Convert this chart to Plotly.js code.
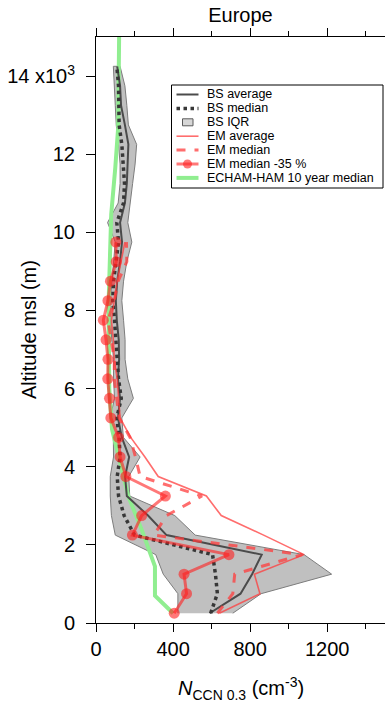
<!DOCTYPE html>
<html>
<head>
<meta charset="utf-8">
<script src="https://cdn.plot.ly/plotly-3.0.1.min.js"></script>
<style>html,body{margin:0;padding:0;background:#fff;}#chart{width:388px;height:706px;}</style>
</head>
<body>
<div id="chart"></div>
<script>
// Altitude bins (m)
var bsAlt = [250,750,1250,1750,2250,2750,3250,3750,4250,4750,5250,5750,6250,6750,7250,7750,8250,8750,9250,9750,10250,10750,11250,11750,12250,12750,13250,13750,14250];
var bsAverage = [590,750,810,860,366,270,160,151,172,134,114,125,114,120,118,108,103,110,125,135,125,150,160,165,168,150,130,125,110];
var bsMedian = [595,630,620,605,200,146,117,110,125,120,108,131,117,108,103,96,87,91,103,117,108,143,148,143,134,120,117,117,108];
var bsP25 = [425,425,349,310,100,80,74,74,91,90,74,96,91,91,82,74,74,82,91,100,60,115,125,125,117,105,100,95,90];
var bsP75 = [710,857,1223,1080,515,409,175,170,229,142,134,194,165,151,151,143,134,143,160,186,165,177,190,203,211,168,160,150,125];

var emAlt = [250,750,1250,1750,2250,2750,3250,3750,4250,4750,5250,5750,6250,6750,7250,7750,8250,8750,9250,9750];
var emAverage = [640,851,822,1080,870,650,573,323,254,180,125,117,110,95,90,80,95,110,130,150];
var emMedian = [630,710,720,1070,300,366,550,229,205,177,120,108,95,95,80,62,95,115,160,158];
var emMedianMinus35 = [406,470,457,690,189,237,360,155,125,117,77,70,61,62,52,38,62,75,105,103];

var echamAlt = [250,700,1450,2390,3240,4100,4960,5250,6000,8130,9770,10460,11650,12680,15000];
var echamMedian = [400,306,306,237,168,125,83,79,69,65,74,79,100,115,120];

var yTickVals = [0,2000,4000,6000,8000,10000,12000,14000];
var yTickText = ["0","2","4","6","8","10","12","14 x10<sup>3</sup>"];
var xTickVals = [0,400,800,1200];
var xTickText = ["0","400","800","1200"];

var legendNames = ["BS average","BS median","BS IQR","EM average","EM median","EM median -35 %","ECHAM-HAM 10 year median"];

// styles
var C_BSAVG = "rgb(75,75,75)", C_BSMED = "rgb(55,55,55)";
var C_EM = "rgba(255,60,60,0.75)", C_EM35 = "rgba(255,30,30,0.6)", C_GREEN = "rgb(144,238,144)";
var FONT = "Liberation Sans, Arial, sans-serif";

var iqrX = bsP25.concat(bsP75.slice().reverse());
var iqrY = bsAlt.concat(bsAlt.slice().reverse());

var traces = [
  {x: iqrX, y: iqrY, name: legendNames[2], type: "scatter", mode: "lines", fill: "toself",
   fillcolor: "rgb(192,192,192)", line: {color: "rgb(125,125,125)", width: 1}},
  {x: echamMedian, y: echamAlt, name: legendNames[6], type: "scatter", mode: "lines",
   line: {color: C_GREEN, width: 4}},
  {x: bsAverage, y: bsAlt, name: legendNames[0], type: "scatter", mode: "lines",
   line: {color: C_BSAVG, width: 2}},
  {x: bsMedian, y: bsAlt, name: legendNames[1], type: "scatter", mode: "lines",
   line: {color: C_BSMED, width: 3.5, dash: "dot"}},
  {x: emAverage, y: emAlt, name: legendNames[3], type: "scatter", mode: "lines",
   line: {color: C_EM, width: 1.6}},
  {x: emMedian, y: emAlt, name: legendNames[4], type: "scatter", mode: "lines",
   line: {color: C_EM, width: 3, dash: "dash"}},
  {x: emMedianMinus35, y: emAlt, name: legendNames[5], type: "scatter", mode: "lines+markers",
   line: {color: C_EM35, width: 3}, marker: {color: C_EM35, size: 11}}
];

// plot area geometry (px) for the hand-drawn legend box
var W = 388, H = 706, ML = 96, MR = 3, MT = 37, MB = 83;
var PW = W - ML - MR, PH = H - MT - MB;
function fx(px) { return (px - ML) / PW; }
function fy(py) { return (H - MB - py) / PH; }

var shapes = [];
var annotations = [];
// legend frame
shapes.push({type: "rect", xref: "paper", yref: "paper", x0: fx(171.5), x1: fx(383), y0: fy(85), y1: fy(188),
  line: {color: "#000", width: 1}, fillcolor: "#fff", layer: "above"});
var rowY0 = 94.5, rowStep = 13.9, sx0 = 176.5, sx1 = 198.5, tx = 204.5;
var legendStyles = [
  {kind: "line", color: C_BSAVG, width: 2},
  {kind: "line", color: C_BSMED, width: 3.5, dash: "dot"},
  {kind: "box"},
  {kind: "line", color: C_EM, width: 1.6},
  {kind: "line", color: C_EM, width: 3, dash: "dash"},
  {kind: "marker", color: C_EM35, width: 3},
  {kind: "line", color: C_GREEN, width: 4}
];
legendStyles.forEach(function (s, i) {
  var cy = rowY0 + i * rowStep;
  if (s.kind === "box") {
    shapes.push({type: "rect", xref: "paper", yref: "paper", x0: fx(182.5), x1: fx(193), y0: fy(cy + 3.5), y1: fy(cy - 3.5),
      line: {color: "rgb(90,90,90)", width: 1}, fillcolor: "rgb(215,215,215)", layer: "above"});
  } else {
    shapes.push({type: "line", xref: "paper", yref: "paper", x0: fx(sx0), x1: fx(sx1), y0: fy(cy), y1: fy(cy),
      line: {color: s.color, width: s.width, dash: s.dash || "solid"}, layer: "above"});
    if (s.kind === "marker") {
      var r = 4.5;
      shapes.push({type: "circle", xref: "paper", yref: "paper", x0: fx(187.5 - r), x1: fx(187.5 + r), y0: fy(cy + r), y1: fy(cy - r),
        line: {width: 0}, fillcolor: s.color, layer: "above"});
    }
  }
  annotations.push({text: legendNames[i], xref: "paper", yref: "paper", x: fx(tx), y: fy(cy), xanchor: "left", yanchor: "middle",
    showarrow: false, font: {family: FONT, size: 12.5, color: "#000"}});
});

// axis titles
annotations.push({text: "Altitude msl (m)", textangle: -90, xref: "paper", yref: "paper", x: fx(29), y: fy(330),
  xanchor: "center", yanchor: "middle", showarrow: false, font: {family: FONT, size: 20, color: "#000"}});
annotations.push({text: "<i>N</i><sub>CCN 0.3</sub> (cm<sup>-3</sup>)", xref: "paper", yref: "paper", x: fx(241), y: fy(689),
  xanchor: "center", yanchor: "middle", showarrow: false, font: {family: FONT, size: 20, color: "#000"}});

var layout = {
  width: W, height: H,
  margin: {l: ML, r: MR, t: MT, b: MB},
  paper_bgcolor: "#fff", plot_bgcolor: "#fff",
  font: {family: FONT, size: 20, color: "#000"},
  showlegend: false,
  title: {text: "Europe", x: 0.5, xref: "paper", y: 1 - 15 / H, yanchor: "middle", font: {size: 20, family: FONT}},
  xaxis: {
    range: [0, 1500], tickvals: xTickVals, ticktext: xTickText,
    ticks: "outside", ticklen: 8, tickwidth: 1, tickcolor: "#000",
    showline: true, linecolor: "#000", linewidth: 1, mirror: "ticks",
    showgrid: false, zeroline: false,
    minor: {dtick: 200, tick0: 0, ticks: "outside", ticklen: 5, tickcolor: "#000", showgrid: false},
    tickfont: {size: 20}
  },
  yaxis: {
    range: [0, 15000], tickvals: yTickVals, ticktext: yTickText,
    ticks: "outside", ticklen: 9, tickwidth: 1, tickcolor: "#000",
    showline: true, linecolor: "#000", linewidth: 1, mirror: false,
    showgrid: false, zeroline: false, ticklabelstandoff: 7,
    tickfont: {size: 20}
  },
  yaxis2: {
    range: [0, 15000], overlaying: "y", side: "right", anchor: "x",
    tickvals: yTickVals, showticklabels: false,
    ticks: "outside", ticklen: 4, tickcolor: "#888",
    showline: true, linecolor: "#888", linewidth: 2, showgrid: false, zeroline: false
  },
  shapes: shapes,
  annotations: annotations
};

Plotly.newPlot("chart", traces, layout, {displayModeBar: false, staticPlot: true});
</script>
</body>
</html>
